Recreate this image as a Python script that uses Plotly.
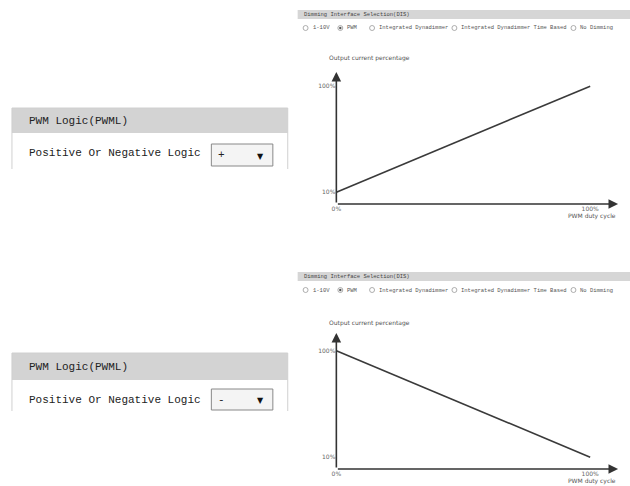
import plotly.graph_objects as go

# data
duty_cycle = [0, 100]
output_positive = [10, 100]
output_negative = [100, 10]
x_ticks = [0, 100]
x_ticktext = ["0%", "100%"]
y_ticks = [10, 100]
y_ticktext = ["10%", "100%"]
radio_labels = ["1-10V", "PWM", "Integrated Dynadimmer",
                "Integrated Dynadimmer Time Based", "No Dimming"]
selected_radio = "PWM"
logic_values = ["+", "-"]

W, H = 630, 486
MONO = "Liberation Mono"
SANS = "DejaVu Sans"


def px(x):
    return x / W


def py(y):
    return 1 - y / H


fig = go.Figure()
fig.add_trace(go.Scatter(x=duty_cycle, y=output_positive, mode='lines',
                         line=dict(color='#3a3a3a', width=1.6),
                         xaxis='x', yaxis='y', showlegend=False, hoverinfo='skip'))
fig.add_trace(go.Scatter(x=duty_cycle, y=output_negative, mode='lines',
                         line=dict(color='#3a3a3a', width=1.6),
                         xaxis='x2', yaxis='y2', showlegend=False, hoverinfo='skip'))

shapes = []
annotations = []


def text(x, y, s, size, family=MONO, color='#333', anchor='left'):
    annotations.append(dict(x=px(x), y=py(y), xref='paper', yref='paper', text=s,
                            showarrow=False, xanchor=anchor, yanchor='middle',
                            font=dict(family=family, size=size, color=color)))


def rect(x0, y0, x1, y1, fill, line='rgba(0,0,0,0)', lw=1):
    shapes.append(dict(type='rect', xref='paper', yref='paper',
                       x0=px(x0), x1=px(x1), y0=py(y1), y1=py(y0),
                       fillcolor=fill, line=dict(color=line, width=lw), layer='below'))


def seg(x0, y0, x1, y1, color='#d0d0d0', lw=1):
    shapes.append(dict(type='line', xref='paper', yref='paper',
                       x0=px(x0), x1=px(x1), y0=py(y0), y1=py(y1),
                       line=dict(color=color, width=lw)))


# right-hand blocks: dimming interface header + radio row
radio_x = [303, 338, 370, 453, 573]
for top, (ax_x, ax_y) in zip([10, 272], [('x', 'y'), ('x2', 'y2')]):
    rect(295, top, 630, top + 9, '#d6d6d6')
    text(299, top + 4.5, "Dimming Interface Selection(DIS)", 5.5, color='#444')
    ry = top + 18
    for cx, lab in zip(radio_x, radio_labels):
        shapes.append(dict(type='circle', xref='paper', yref='paper',
                           x0=px(cx - 2.5), x1=px(cx + 2.5), y0=py(ry + 2.5), y1=py(ry - 2.5),
                           line=dict(color='#999', width=0.8), fillcolor='white'))
        if lab == selected_radio:
            shapes.append(dict(type='circle', xref='paper', yref='paper',
                               x0=px(cx - 1.2), x1=px(cx + 1.2), y0=py(ry + 1.2), y1=py(ry - 1.2),
                               line=dict(width=0), fillcolor='#555'))
        text(cx + 5, ry, lab, 5.5, color='#555')

    # axes with arrowheads
    xmax, ymax = 111, 112 if ax_x == 'x' else 115
    annotations.append(dict(x=xmax, y=0, xref=ax_x, yref=ax_y, ax=0, ay=0,
                            axref=ax_x, ayref=ax_y, text='', showarrow=True,
                            arrowhead=2, arrowsize=1.2, arrowwidth=1.6, arrowcolor='#333'))
    annotations.append(dict(x=0, y=ymax, xref=ax_x, yref=ax_y, ax=0, ay=0,
                            axref=ax_x, ayref=ax_y, text='', showarrow=True,
                            arrowhead=2, arrowsize=1.2, arrowwidth=1.6, arrowcolor='#333'))

text(325, 58, "Output current percentage", 6, SANS, '#555')
text(618, 216, "PWM duty cycle", 6, SANS, '#555', 'right')
text(325, 323, "Output current percentage", 6, SANS, '#555')
text(618, 481, "PWM duty cycle", 6, SANS, '#555', 'right')

# left-hand blocks: PWM logic panels
for (top, hbot, body_y, dd_top, dd_bot, bot), val in zip(
        [(108, 133, 153, 144, 166, 169), (353, 380, 400, 389, 410, 411)], logic_values):
    rect(7, top, 285, hbot, '#d3d3d3')
    seg(7, top, 285, top)
    seg(7, top, 7, bot)
    seg(285, top, 285, bot)
    text(22, (top + hbot) / 2, "PWM Logic(PWML)", 11, color='#222')
    text(22, body_y, "Positive Or Negative Logic", 11, color='#222')
    shapes.append(dict(type='rect', xref='paper', yref='paper',
                       x0=px(208), x1=px(270), y0=py(dd_bot), y1=py(dd_top),
                       fillcolor='#f4f4f4', line=dict(color='#888', width=1)))
    text(213, (dd_top + dd_bot) / 2, val, 11, color='#222')
    text(258, (dd_top + dd_bot) / 2 + 1, "▼", 8, SANS, '#111', 'center')

axis_common = dict(showgrid=False, zeroline=False, showline=False, ticks='',
                   tickfont=dict(family=SANS, size=6, color='#666'))

fig.update_layout(
    width=W, height=H,
    margin=dict(l=0, r=0, t=0, b=0),
    paper_bgcolor='white', plot_bgcolor='rgba(0,0,0,0)',
    shapes=shapes, annotations=annotations,
    xaxis=dict(domain=[px(334), px(618)], range=[0, 111], anchor='y',
               tickvals=x_ticks, ticktext=x_ticktext, **axis_common),
    yaxis=dict(domain=[py(204), py(72)], range=[0, 112], anchor='x',
               tickvals=y_ticks, ticktext=y_ticktext, **axis_common),
    xaxis2=dict(domain=[px(334), px(618)], range=[0, 111], anchor='y2',
                tickvals=x_ticks, ticktext=x_ticktext, **axis_common),
    yaxis2=dict(domain=[py(469), py(333)], range=[0, 115], anchor='x2',
                tickvals=y_ticks, ticktext=y_ticktext, **axis_common),
)

fig.write_html("out.html", config={'displayModeBar': False},
               post_script="document.body.style.margin='0';")
